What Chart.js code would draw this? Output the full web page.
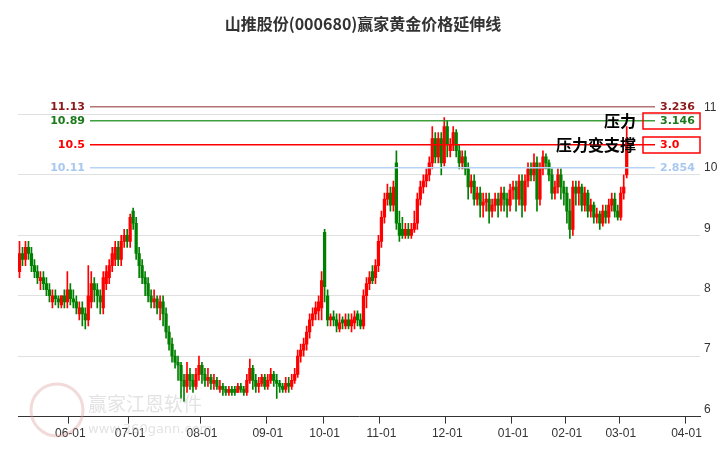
<!DOCTYPE html>
<html>
<head>
<meta charset="utf-8">
<script src="https://cdn.jsdelivr.net/npm/chart.js@4/dist/chart.umd.min.js"></script>
<style>
  body { margin: 0; background: #fff; }
  #wrap { width: 726px; height: 450px; position: relative; }
</style>
</head>
<body>
<div id="wrap"><canvas id="c"></canvas></div>
<script>
const titleText = '山推股份(000680)赢家黄金价格延伸线';

// daily candles, oldest first
const opens = [
  8.4,8.7,8.6,8.8,8.7, 8.5,8.4,8.25,8.3,8.2, 8.1,7.9,8.0,7.95,7.85, 8.0,7.9,8.1,7.95,7.9,
  7.7,7.8,7.7,7.6,7.9, 8.2,8.1,8.0,7.8,8.2, 8.3,8.5,8.6,8.8,8.6, 8.9,9.0,8.9,9.4,9.2,
  8.7,8.5,8.3,8.2,8.0, 7.9,7.95,7.8,7.9,7.7, 7.4,7.2,7.0,6.9,6.85, 6.6,6.5,6.7,6.6,6.5,
  6.7,6.85,6.7,6.6,6.65, 6.55,6.6,6.45,6.5,6.45, 6.4,6.45,6.45,6.4,6.5, 6.45,6.4,6.6,6.8,6.6,
  6.5,6.55,6.65,6.5,6.6, 6.7,6.6,6.55,6.5,6.45, 6.55,6.5,6.6,6.7,7.0, 7.1,7.2,7.4,7.6,7.7,
  7.75,7.8,9.05,8.0,7.6, 7.65,7.6,7.45,7.6,7.5, 7.6,7.5,7.55,7.7,7.6, 7.5,8.0,8.2,8.4,8.3,
  8.5,8.9,9.3,9.6,9.7, 9.5,10.2,9.2,9.1,9.0, 9.1,9.0,9.1,9.2,9.6, 9.8,9.9,10.0,10.2,10.6,
  10.3,10.6,10.2,10.8,10.4, 10.5,10.7,10.4,10.2,10.3, 10.1,9.8,9.9,9.6,9.7, 9.5,9.55,9.6,9.4,9.5,
  9.6,9.5,9.7,9.6,9.5, 9.75,9.8,9.6,9.9,9.5, 9.9,10.1,10.0,10.2,9.6, 10.1,10.3,10.2,10.0,9.7,
  9.8,10.0,9.8,9.7,9.4, 9.1,9.8,9.7,9.8,9.5, 9.7,9.4,9.5,9.3,9.35, 9.2,9.4,9.3,9.5,9.6,
  9.4,9.3,9.7,10.0
];
const closes = [
  8.7,8.6,8.8,8.7,8.5, 8.4,8.3,8.3,8.2,8.1, 8.0,8.0,7.95,7.9,8.0, 7.9,8.1,7.95,7.9,7.8,
  7.8,7.7,7.6,8.0,8.2, 8.1,8.0,7.9,8.3,8.4, 8.5,8.7,8.8,8.6,8.9, 9.0,8.9,9.3,9.2,8.7,
  8.5,8.3,8.2,8.0,7.9, 7.95,7.8,7.9,7.7,7.4, 7.2,7.0,6.9,6.85,6.6, 6.5,6.7,6.6,6.5,6.7,
  6.85,6.7,6.6,6.65,6.55, 6.6,6.5,6.5,6.45,6.4, 6.45,6.4,6.4,6.5,6.45, 6.4,6.6,6.8,6.6,6.5,
  6.55,6.65,6.5,6.6,6.7, 6.6,6.55,6.5,6.45,6.55, 6.5,6.6,6.7,7.0,7.1, 7.2,7.4,7.6,7.7,7.8,
  7.9,8.25,8.15,7.6,7.65, 7.6,7.5,7.55,7.55,7.6, 7.5,7.6,7.65,7.6,7.5, 8.0,8.2,8.3,8.25,8.5,
  8.9,9.3,9.6,9.7,9.5, 9.8,9.2,9.0,9.0,9.1, 9.0,9.1,9.2,9.6,9.8, 9.9,10.0,10.2,10.6,10.3,
  10.6,10.2,10.8,10.5,10.5, 10.7,10.4,10.2,10.3,10.1, 9.8,9.9,9.6,9.7,9.5, 9.55,9.6,9.4,9.5,9.6,
  9.5,9.7,9.6,9.5,9.75, 9.8,9.6,9.9,9.5,9.9, 10.1,10.0,10.2,9.6,10.1, 10.3,10.2,10.0,9.7,9.8,
  10.0,9.8,9.7,9.4,9.1, 9.8,9.7,9.8,9.5,9.7, 9.4,9.5,9.3,9.35,9.2, 9.4,9.3,9.5,9.6,9.4,
  9.3,9.7,9.8,10.6
];
const highs = [
  8.9,8.8,8.9,8.9,8.8, 8.6,8.5,8.4,8.4,8.3, 8.2,8.1,8.1,8.0,8.0, 8.1,8.4,8.2,8.1,8.0,
  7.9,7.9,7.8,8.5,8.4, 8.3,8.2,8.1,8.4,8.5, 8.6,8.8,8.9,8.9,9.0, 9.1,9.1,9.35,9.45,9.3,
  8.8,8.6,8.4,8.3,8.1, 8.1,8.0,8.0,8.0,7.8, 7.5,7.3,7.1,7.0,6.9, 6.7,6.9,6.8,6.7,6.8,
  7.0,6.9,6.8,6.8,6.7, 6.7,6.65,6.6,6.55,6.5, 6.5,6.5,6.5,6.55,6.55, 6.5,6.7,6.95,6.85,6.7,
  6.65,6.7,6.7,6.7,6.8, 6.75,6.7,6.6,6.55,6.65, 6.65,6.7,6.8,7.1,7.2, 7.3,7.5,7.7,7.8,7.9,
  8.0,8.4,9.1,8.1,7.7, 7.75,7.7,7.7,7.65,7.7, 7.7,7.7,7.75,7.75,7.7, 8.1,8.3,8.4,8.5,8.6,
  9.0,9.4,9.7,9.85,9.8, 9.9,10.4,9.4,9.3,9.2, 9.2,9.2,9.4,9.7,9.9, 10.0,10.1,10.3,10.8,10.7,
  10.7,10.7,10.95,10.9,10.6, 10.8,10.75,10.5,10.4,10.4, 10.2,10.0,10.0,9.8,9.8, 9.7,9.7,9.7,9.6,9.7,
  9.7,9.8,9.8,9.7,9.85, 9.9,9.9,10.0,10.0,10.0, 10.2,10.2,10.35,10.3,10.2, 10.4,10.35,10.25,10.1,9.9,
  10.1,10.1,9.9,9.8,9.6, 9.9,9.9,9.9,9.85,9.8, 9.75,9.6,9.55,9.45,9.4, 9.5,9.5,9.6,9.7,9.7,
  9.5,9.8,10.0,10.8
];
const lows = [
  8.3,8.5,8.5,8.6,8.4, 8.3,8.2,8.1,8.1,8.0, 7.9,7.8,7.85,7.8,7.8, 7.8,7.8,7.85,7.8,7.7,
  7.6,7.5,7.45,7.5,7.8, 7.9,7.8,7.7,7.7,8.1, 8.2,8.4,8.5,8.5,8.5, 8.8,8.8,8.8,9.1,8.6,
  8.3,8.2,8.0,7.9,7.8, 7.8,7.7,7.6,7.5,7.3, 7.1,6.9,6.8,6.6,6.3, 6.25,6.4,6.45,6.4,6.45,
  6.6,6.55,6.5,6.5,6.45, 6.45,6.45,6.4,6.35,6.35, 6.35,6.35,6.35,6.4,6.4, 6.35,6.35,6.55,6.45,6.4,
  6.4,6.5,6.45,6.45,6.55, 6.5,6.3,6.4,6.4,6.4, 6.4,6.45,6.55,6.65,6.9, 7.0,7.1,7.3,7.5,7.6,
  7.6,7.6,7.9,7.5,7.5, 7.5,7.4,7.4,7.45,7.45, 7.45,7.4,7.45,7.5,7.45, 7.45,7.8,8.1,8.2,8.2,
  8.4,8.8,9.2,9.5,9.4, 9.4,9.1,8.9,8.95,8.95, 8.95,8.95,9.05,9.1,9.5, 9.7,9.8,9.9,10.1,10.2,
  10.2,10.0,10.15,10.3,10.3, 10.4,10.3,10.1,10.1,10.0, 9.6,9.7,9.5,9.5,9.3, 9.3,9.4,9.2,9.3,9.4,
  9.3,9.4,9.4,9.3,9.4, 9.6,9.4,9.5,9.3,9.4, 9.8,9.9,9.9,9.4,9.5, 10.0,10.1,9.9,9.6,9.6,
  9.7,9.6,9.5,9.2,8.95, 9.0,9.5,9.5,9.4,9.4, 9.3,9.3,9.2,9.2,9.1, 9.15,9.2,9.2,9.4,9.3,
  9.25,9.25,9.6,9.95
];
const totalSlots = 228;
const monthTicks = { 17:'06-01', 37:'07-01', 61:'08-01', 83:'09-01', 102:'10-01', 121:'11-01',
  143:'12-01', 165:'01-01', 183:'02-01', 201:'03-01', 223:'04-01' };
const yTicks = [6, 7, 8, 9, 10, 11];

// golden price lines
const levelValues = [11.13, 10.89, 10.5, 10.11];
const levelRight = ['3.236', '3.146', '3.0', '2.854'];
const levelColors = ['#8b1a1a', '#1a7a1a', '#ff0000', '#a8c8f0'];
const levelLineColors = ['rgba(160,80,80,0.8)', 'rgba(40,150,40,0.9)', '#ff0000', '#b8d4f4'];
const levelBoxed = [false, true, true, false];
const levelNotes = ['', '压力', '压力变支撑', ''];

const UP = '#ff0000', DOWN = '#008000';
const labels = [];
for (let i = 0; i < totalSlots; i++) labels.push(monthTicks[i] || '');
const candleColors = opens.map((o, i) => closes[i] >= o ? UP : DOWN);
const bodies = opens.map((o, i) => {
  let lo = Math.min(o, closes[i]), hi = Math.max(o, closes[i]);
  if (hi - lo < 0.03) hi = lo + 0.03;
  return [lo, hi];
});
const wicks = lows.map((l, i) => [l, highs[i]]);

const overlay = {
  id: 'overlay',
  afterDatasetsDraw(chart) {
    const { ctx, scales: { y } } = chart;
    ctx.save();
    ctx.font = 'bold 16px "Noto Sans CJK SC", sans-serif';
    ctx.fillStyle = '#333';
    ctx.textAlign = 'center';
    ctx.textBaseline = 'middle';
    ctx.fillText(titleText, 363, 24);

    // watermark
    ctx.strokeStyle = 'rgba(220,150,150,0.35)';
    ctx.lineWidth = 3;
    ctx.beginPath();
    ctx.arc(57, 410, 26, 0, Math.PI * 2);
    ctx.stroke();
    ctx.font = '19px "Noto Sans CJK SC", sans-serif';
    ctx.fillStyle = 'rgba(200,200,200,0.5)';
    ctx.textAlign = 'left';
    ctx.fillText('赢家江恩软件', 88, 404);
    ctx.font = '13px "DejaVu Sans", sans-serif';
    ctx.fillText('www.360gann.com', 88, 430);

    levelValues.forEach((v, i) => {
      const py = Math.round(y.getPixelForValue(v));
      ctx.fillStyle = levelLineColors[i];
      ctx.fillRect(90, py - 1, 565, 1.5);
      ctx.font = 'bold 11px "DejaVu Sans", sans-serif';
      ctx.fillStyle = levelColors[i];
      ctx.textAlign = 'right';
      ctx.fillText(String(v), 85, py);
      ctx.textAlign = 'left';
      ctx.fillText(levelRight[i], 660, py);
      if (levelBoxed[i]) {
        ctx.strokeStyle = '#ff0000';
        ctx.lineWidth = 1.5;
        ctx.strokeRect(643, py - 8, 57, 16);
      }
      if (levelNotes[i]) {
        ctx.font = 'bold 16px "Noto Sans CJK SC", sans-serif';
        ctx.fillStyle = '#000';
        ctx.textAlign = 'right';
        ctx.fillText(levelNotes[i], 636, py);
      }
    });
    ctx.restore();
  }
};

new Chart(document.getElementById('c'), {
  type: 'bar',
  data: {
    labels: labels,
    datasets: [
      { data: wicks, backgroundColor: candleColors, barThickness: 1, grouped: false },
      { data: bodies, backgroundColor: candleColors, barThickness: 2.6, grouped: false }
    ]
  },
  options: {
    responsive: true,
    maintainAspectRatio: false,
    animation: false,
    layout: { padding: { top: 42, left: 18, right: 0, bottom: 6 } },
    plugins: { legend: { display: false }, tooltip: { enabled: false } },
    scales: {
      x: {
        ticks: { autoSkip: false, maxRotation: 0, color: '#333', font: { size: 12 },
          callback: (v, i) => labels[i] },
        grid: {
          drawOnChartArea: false, tickLength: 7,
          color: ctx => (labels[ctx.index] ? '#333' : 'rgba(0,0,0,0)')
        },
        border: { color: '#333' }
      },
      y: {
        position: 'right',
        min: 6, max: 12.2,
        afterBuildTicks: axis => { axis.ticks = yTicks.map(v => ({ value: v })); },
        afterFit: axis => { axis.width = 26; },
        ticks: { color: '#333', font: { size: 12 }, padding: 4, labelOffset: -7 },
        grid: { color: '#e0e0e0', drawTicks: false },
        border: { display: false }
      }
    }
  },
  plugins: [overlay]
});
</script>
</body>
</html>
